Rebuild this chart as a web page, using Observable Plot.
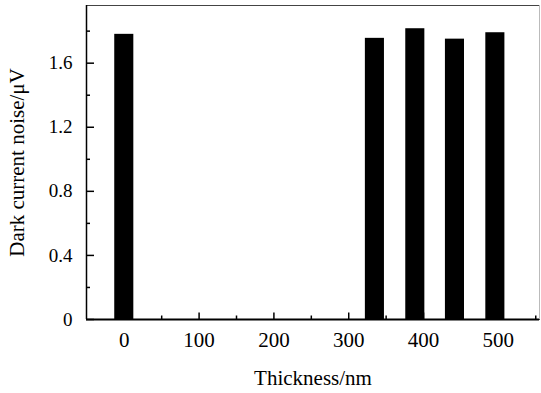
<!DOCTYPE html>
<html><head><meta charset="utf-8">
<script src="https://cdn.jsdelivr.net/npm/d3@7"></script>
<script src="https://cdn.jsdelivr.net/npm/@observablehq/plot@0.6"></script>
<style>body{margin:0;background:#fff} #chart{width:541px;height:393px} svg text{font-family:'Liberation Serif','Times New Roman',serif}</style>
</head><body><div id="chart"></div>
<script>
const thickness = [0, 335, 389, 442, 496];
const noise = [1.78, 1.755, 1.815, 1.75, 1.79];
const xMajorTicks = [0, 100, 200, 300, 400, 500];
const xMinorTicks = [50, 150, 250, 350, 450, 550];
const yMajorTicks = [0, 0.4, 0.8, 1.2, 1.6];
const yMinorTicks = [0.2, 0.6, 1.0, 1.4, 1.8];
const xDomain = [-50.5, 555];
const yDomain = [0, 1.96];
const barWidth = 25.5;
const xTitle = "Thickness/nm";
const yTitle = "Dark current noise/μV";

const data = thickness.map((t, i) => ({t, v: noise[i]}));
const font = "'Liberation Serif','Times New Roman',serif";
const yFmt = d => d === 0 ? "0" : d.toFixed(1);

const chart = Plot.plot({
  width: 541, height: 393,
  marginLeft: 86, marginRight: 2, marginTop: 5, marginBottom: 74,
  style: {fontFamily: font, background: "#fff", color: "#000", overflow: "visible"},
  x: {domain: xDomain},
  y: {domain: yDomain},
  marks: [
    Plot.frame({stroke: "#444", strokeWidth: 1}),
    Plot.ruleX([xDomain[1]], {stroke: "#bbb", strokeWidth: 1}),
    Plot.rectY(data, {x1: d => d.t - barWidth / 2, x2: d => d.t + barWidth / 2, y1: 0, y2: "v", fill: "#000"}),
    Plot.axisX(xMajorTicks, {tickSize: 6.5, dy: -6.5, fill: "none", strokeWidth: 1.5, label: null}),
    Plot.axisX(xMinorTicks, {tickSize: 3.5, dy: -3.5, fill: "none", strokeWidth: 1.5, label: null}),
    Plot.axisY(yMajorTicks, {tickSize: 8, dx: 8, fill: "none", strokeWidth: 1.5, label: null}),
    Plot.axisY(yMinorTicks, {tickSize: 4, dx: 4, fill: "none", strokeWidth: 1.5, label: null}),
    Plot.ruleX([xDomain[0]], {stroke: "#000", strokeWidth: 1.5}),
    Plot.ruleY([0], {stroke: "#000", strokeWidth: 2}),
    Plot.axisX(xMajorTicks, {tickSize: 0, tickPadding: 13, fontSize: 21, fontFamily: font, fontVariant: "normal", label: null}),
    Plot.axisY(yMajorTicks, {tickSize: 0, tickPadding: 14, fontSize: 19, fontFamily: font, fontVariant: "normal", tickFormat: yFmt, label: null}),
    Plot.axisX([], {tickSize: 0, fontSize: 21, fontFamily: font, label: xTitle, labelAnchor: "center", labelOffset: 65, labelArrow: "none"}),
    Plot.axisY([], {tickSize: 0, fontSize: 21, fontFamily: font, label: yTitle, labelAnchor: "center", labelOffset: 77, labelArrow: "none"})
  ]
});
document.getElementById("chart").appendChild(chart);
</script>
</body></html>
